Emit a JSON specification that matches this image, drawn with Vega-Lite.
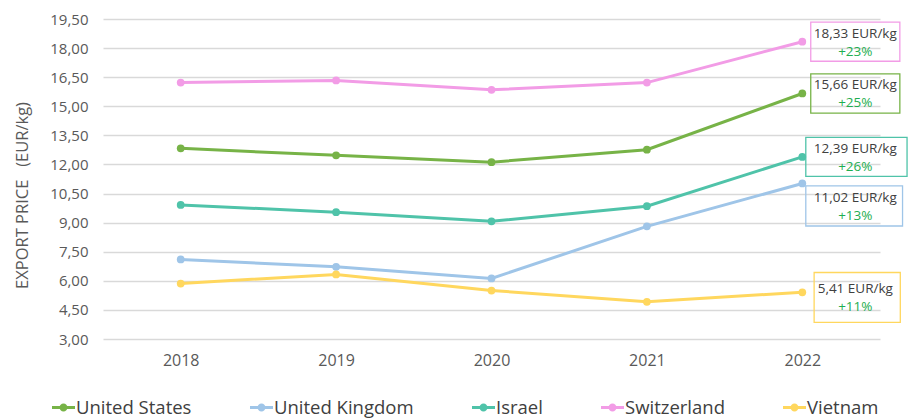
{
  "$schema": "https://vega.github.io/schema/vega-lite/v6.json",
  "width": 777,
  "height": 320,
  "autosize": "none",
  "padding": {"left": 103, "top": 19, "right": 29, "bottom": 79},
  "background": "white",
  "config": {
    "view": {"stroke": null},
    "font": "Open Sans",
    "axisY": {
      "titleFontSize": 16.5, "titleFontWeight": "normal", "titleColor": "#595959",
      "titlePadding": 19, "titleFont": "Open Sans", "titleY": 176,
      "labelFontSize": 15, "labelColor": "#595959", "labelPadding": 15,
      "labelFont": "Open Sans", "labelOverlap": false,
      "domain": false, "ticks": false,
      "grid": true, "gridColor": "#d9d9d9", "gridWidth": 1.5
    }
  },
  "datasets": {
    "prices": [
      {"country": "United States", "year": "2018", "price": 12.83},
      {"country": "United States", "year": "2019", "price": 12.47},
      {"country": "United States", "year": "2020", "price": 12.12},
      {"country": "United States", "year": "2021", "price": 12.76},
      {"country": "United States", "year": "2022", "price": 15.66},
      {"country": "United Kingdom", "year": "2018", "price": 7.10},
      {"country": "United Kingdom", "year": "2019", "price": 6.72},
      {"country": "United Kingdom", "year": "2020", "price": 6.12},
      {"country": "United Kingdom", "year": "2021", "price": 8.81},
      {"country": "United Kingdom", "year": "2022", "price": 11.02},
      {"country": "Israel", "year": "2018", "price": 9.91},
      {"country": "Israel", "year": "2019", "price": 9.54},
      {"country": "Israel", "year": "2020", "price": 9.07},
      {"country": "Israel", "year": "2021", "price": 9.85},
      {"country": "Israel", "year": "2022", "price": 12.39},
      {"country": "Switzerland", "year": "2018", "price": 16.22},
      {"country": "Switzerland", "year": "2019", "price": 16.33},
      {"country": "Switzerland", "year": "2020", "price": 15.85},
      {"country": "Switzerland", "year": "2021", "price": 16.22},
      {"country": "Switzerland", "year": "2022", "price": 18.33},
      {"country": "Vietnam", "year": "2018", "price": 5.86},
      {"country": "Vietnam", "year": "2019", "price": 6.33},
      {"country": "Vietnam", "year": "2020", "price": 5.50},
      {"country": "Vietnam", "year": "2021", "price": 4.92},
      {"country": "Vietnam", "year": "2022", "price": 5.41}
    ],
    "notes": [
      {"country": "Switzerland", "year": "2022", "pos": 18.33, "value": "18,33 EUR/kg", "change": "+23%", "box": "a"},
      {"country": "United States", "year": "2022", "pos": 15.66, "value": "15,66 EUR/kg", "change": "+25%", "box": "a"},
      {"country": "Israel", "year": "2022", "pos": 12.39, "value": "12,39 EUR/kg", "change": "+26%", "box": "b"},
      {"country": "United Kingdom", "year": "2022", "pos": 9.86, "value": "11,02 EUR/kg", "change": "+13%", "box": "c"},
      {"country": "Vietnam", "year": "2022", "pos": 5.14, "value": "5,41 EUR/kg", "change": "+11%", "box": "d"}
    ]
  },
  "encoding": {
    "x": {
      "field": "year", "type": "ordinal",
      "scale": {"type": "point", "padding": 0.5},
      "axis": {
        "title": null, "domain": false, "ticks": false, "grid": false,
        "labelAngle": 0, "labelFontSize": 16, "labelColor": "#595959",
        "labelPadding": 13, "labelFont": "Open Sans"
      }
    },
    "color": {
      "field": "country", "type": "nominal",
      "scale": {
        "domain": ["United States", "United Kingdom", "Israel", "Switzerland", "Vietnam"],
        "range": ["#77b347", "#9fc5e8", "#4fc3a9", "#f29ce6", "#ffd75e"]
      },
      "legend": {
        "title": null,
        "orient": "none",
        "legendX": -51,
        "legendY": 377,
        "direction": "horizontal",
        "labelFontSize": 18.5,
        "labelFont": "Open Sans",
        "labelColor": "#404040",
        "columnPadding": 58,
        "labelOffset": 1,
        "symbolType": "M-1,-0.13H1V0.13H-1Z M-0.35,0A0.35,0.35 0 1,1 0.35,0A0.35,0.35 0 1,1 -0.35,0Z",
        "symbolSize": 529,
        "symbolStrokeWidth": 0,
        "symbolOpacity": 1
      }
    }
  },
  "layer": [
    {
      "data": {"name": "prices"},
      "mark": {"type": "line", "strokeWidth": 3, "point": {"filled": true, "size": 60, "opacity": 1}},
      "encoding": {
        "y": {
          "field": "price", "type": "quantitative",
          "scale": {"domain": [3, 19.5], "nice": false, "zero": false},
          "axis": {
            "title": "EXPORT PRICE\u00a0\u00a0\u00a0(EUR/kg)",
            "values": [3, 4.5, 6, 7.5, 9, 10.5, 12, 13.5, 15, 16.5, 18, 19.5],
            "labelExpr": "replace(format(datum.value, '.2f'), '.', ',')"
          }
        }
      }
    },
    {
      "data": {"name": "notes"},
      "mark": {"type": "point", "filled": false, "strokeWidth": 1.3, "opacity": 1, "size": 2025, "xOffset": 53},
      "encoding": {
        "y": {
          "field": "pos", "type": "quantitative",
          "axis": {
            "title": "EXPORT PRICE\u00a0\u00a0\u00a0(EUR/kg)",
            "values": [3, 4.5, 6, 7.5, 9, 10.5, 12, 13.5, 15, 16.5, 18, 19.5],
            "labelExpr": "replace(format(datum.value, '.2f'), '.', ',')"
          }
        },
        "shape": {
          "field": "box", "type": "nominal",
          "scale": {
            "domain": ["a", "b", "c", "d"],
            "range": [
              "M-1.98,-0.87H1.98V0.87H-1.98Z",
              "M-2.2,-0.87H2.3V0.87H-2.2Z",
              "M-2.2,-0.89H2.1V0.89H-2.2Z",
              "M-1.83,-1.11H2.0V1.11H-1.83Z"
            ]
          },
          "legend": null
        }
      }
    },
    {
      "data": {"name": "notes"},
      "mark": {"type": "text", "dx": 53, "dy": -8, "fontSize": 13.5, "font": "Open Sans"},
      "encoding": {
        "y": {
          "field": "pos", "type": "quantitative",
          "axis": {
            "title": "EXPORT PRICE\u00a0\u00a0\u00a0(EUR/kg)",
            "values": [3, 4.5, 6, 7.5, 9, 10.5, 12, 13.5, 15, 16.5, 18, 19.5],
            "labelExpr": "replace(format(datum.value, '.2f'), '.', ',')"
          }
        },
        "text": {"field": "value"},
        "color": {"value": "#404040"}
      }
    },
    {
      "data": {"name": "notes"},
      "mark": {"type": "text", "dx": 53, "dy": 10, "fontSize": 13.5, "font": "Open Sans"},
      "encoding": {
        "y": {
          "field": "pos", "type": "quantitative",
          "axis": {
            "title": "EXPORT PRICE\u00a0\u00a0\u00a0(EUR/kg)",
            "values": [3, 4.5, 6, 7.5, 9, 10.5, 12, 13.5, 15, 16.5, 18, 19.5],
            "labelExpr": "replace(format(datum.value, '.2f'), '.', ',')"
          }
        },
        "text": {"field": "change"},
        "color": {"value": "#1fae50"}
      }
    }
  ]
}
